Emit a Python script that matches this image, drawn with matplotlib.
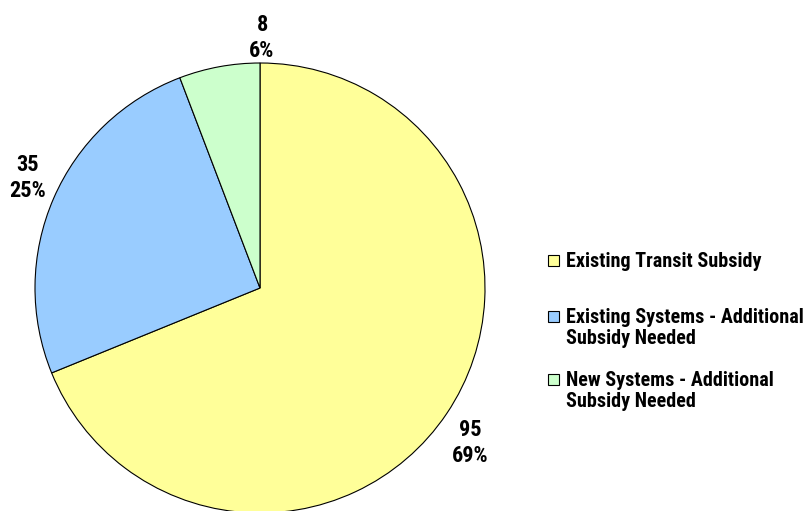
import matplotlib.pyplot as plt
from matplotlib.patches import Rectangle

# data
categories = ["Existing Transit Subsidy",
              "Existing Systems - Additional\nSubsidy Needed",
              "New Systems - Additional\nSubsidy Needed"]
values = [95, 35, 8]
percents = ["69%", "25%", "6%"]
colors = ["#FFFF99", "#99CCFF", "#CCFFCC"]

plt.rcParams['font.family'] = ['Roboto Condensed', 'Liberation Sans Narrow', 'Roboto', 'DejaVu Sans']

# canvas in pixel units, y going up
W, H = 807, 511
fig = plt.figure(figsize=(W / 100, H / 100), dpi=100)
ax = fig.add_axes([0, 0, 1, 1])

ax.pie(values, colors=colors, startangle=90, counterclock=False,
       center=(260, H - 288), radius=225, frame=True,
       wedgeprops=dict(edgecolor='black', linewidth=0.8))
ax.set_xlim(0, W)
ax.set_ylim(0, H)
ax.set_aspect('equal')
ax.axis('off')

# data labels (value / percent)
label_pos = [(470, H - 443), (28, H - 178), (262, H - 38)]
for (x, y), v, p in zip(label_pos, values, percents):
    ax.text(x, y, f"{v}\n{p}", ha='center', va='center', fontsize=16,
            fontweight='bold', linespacing=1.25)

# legend, drawn by hand so the key sits on the first line
legend_rows = [260, 316, 379]
for c, lab, yp in zip(colors, categories, legend_rows):
    y = H - yp
    ax.add_patch(Rectangle((548, y - 5.5), 11, 11, facecolor=c, edgecolor='black',
                           linewidth=0.8))
    ax.text(566, y + 8.5, lab, ha='left', va='top', fontsize=14.5, fontweight='bold',
            linespacing=1.15)

fig.savefig("out.png", dpi=100)
